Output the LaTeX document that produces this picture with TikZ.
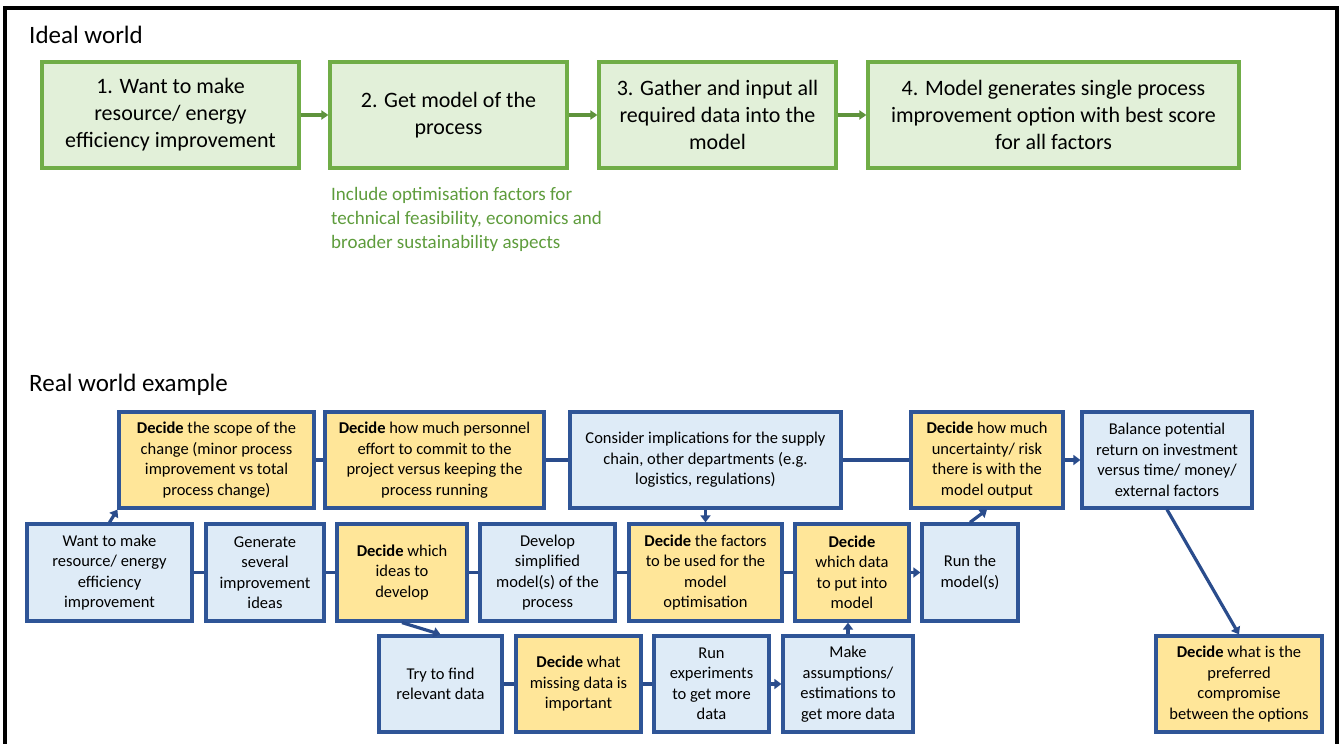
\documentclass[tikz,border=0pt]{standalone}
\usepackage{fontspec}
\setmainfont{Carlito}
\usetikzlibrary{arrows.meta}
\definecolor{bborder}{HTML}{2F5597}
\definecolor{bline}{HTML}{2A4C8C}
\definecolor{bfill}{HTML}{DEEBF7}
\definecolor{yfill}{HTML}{FFE699}
\definecolor{gborder}{HTML}{70AD47}
\definecolor{gfill}{HTML}{E2F0D9}
\definecolor{gtext}{HTML}{5E9C3C}
\newcommand{\mybox}[7]{\node[#6, minimum width={#4-#2}, minimum height={#5-#3}] (#1) at ({(#2+#4)/2},{(#3+#5)/2}) {#7};}
\tikzset{
  idealbox/.style={draw=gborder, fill=gfill, line width=3.2pt, inner sep=0pt, align=center, font=\fontsize{22}{27}\selectfont},
  bluebox/.style={draw=bborder, fill=bfill, line width=3.2pt, inner sep=0pt, align=center, font=\fontsize{16.5}{20.5}\selectfont},
  yellowbox/.style={draw=bborder, fill=yfill, line width=3.2pt, inner sep=0pt, align=center, font=\fontsize{16.5}{20.5}\selectfont},
  garrow/.style={draw=gborder!85!black, line width=3.2pt, -{Triangle[length=7pt,width=9pt]}},
  bconn/.style={draw=bline, line width=3.2pt},
  barrow/.style={draw=bline, line width=3.2pt, -{Triangle[length=7pt,width=10pt]}},
  title/.style={anchor=west, inner sep=0pt, font=\fontsize{25}{30}\selectfont}
}
\begin{document}
\begin{tikzpicture}[x=1pt,y=-1pt]
\useasboundingbox (0,0) rectangle (1341,744);
\draw[line width=3.5pt] (5,780) -- (5,8) -- (1337,8) -- (1337,780);

\node[title] (t1) at (29,35) {Ideal world};
\node[title] (t2) at (29,385) {Real world example};

\mybox{i1}{42}{62}{299}{168}{idealbox}{1. Want to make\\resource/ energy\\efficiency improvement}
\mybox{i2}{330}{62}{567}{168}{idealbox}{2. Get model of the\\process}
\mybox{i3}{599}{62}{836}{168}{idealbox}{3. Gather and input all\\required data into the\\model}
\mybox{i4}{868}{62}{1239}{168}{idealbox}{4. Model generates single process\\improvement option with best score\\for all factors}
\draw[garrow] (i1) -- (i2);
\draw[garrow] (i2) -- (i3);
\draw[garrow] (i3) -- (i4);
\node[anchor=west, inner sep=0pt, align=left, text=gtext, font=\fontsize{19}{24}\selectfont] (note) at (331,219) {Include optimisation factors for\\technical feasibility, economics and\\broader sustainability aspects};

% top row
\mybox{a}{119}{412}{314}{508}{yellowbox}{\textbf{Decide} the scope of the\\change (minor process\\improvement vs total\\process change)}
\mybox{b}{325}{412}{544}{508}{yellowbox}{\textbf{Decide} how much personnel\\effort to commit to the\\project versus keeping the\\process running}
\mybox{c}{570}{412}{841}{508}{bluebox}{Consider implications for the supply\\chain, other departments (e.g.\\logistics, regulations)}
\mybox{d}{911}{412}{1063}{508}{yellowbox}{\textbf{Decide} how much\\uncertainty/ risk\\there is with the\\model output}
\mybox{e}{1082}{412}{1252}{508}{bluebox}{Balance potential\\return on investment\\versus time/ money/\\external factors}
% middle row
\mybox{f}{27}{524}{192}{621}{bluebox}{Want to make\\resource/ energy\\efficiency\\improvement}
\mybox{g}{206}{524}{324}{621}{bluebox}{Generate\\several\\improvement\\ideas}
\mybox{h}{337}{524}{467}{621}{yellowbox}{\textbf{Decide} which\\ideas to\\develop}
\mybox{ii}{480}{524}{615}{621}{bluebox}{Develop\\simplified\\model(s) of the\\process}
\mybox{j}{629}{524}{782}{621}{yellowbox}{\textbf{Decide} the factors\\to be used for the\\model\\optimisation}
\mybox{k}{795}{524}{909}{621}{yellowbox}{\textbf{Decide}\\which data\\to put into\\model}
\mybox{l}{922}{524}{1018}{621}{bluebox}{Run the\\model(s)}
% bottom row
\mybox{m}{379}{636}{502}{732}{bluebox}{Try to find\\relevant data}
\mybox{n}{516}{636}{641}{732}{yellowbox}{\textbf{Decide} what\\missing data is\\important}
\mybox{o}{654}{636}{769}{732}{bluebox}{Run\\experiments\\to get more\\data}
\mybox{p}{783}{636}{913}{732}{bluebox}{Make\\assumptions/\\estimations to\\get more data}
\mybox{q}{1156}{636}{1322}{732}{yellowbox}{\textbf{Decide} what is the\\preferred\\compromise\\between the options}

% connectors
\draw[barrow] (f.north) -- (a.south west);
\draw[bconn] (a) -- (b);
\draw[bconn] (b) -- (c);
\draw[bconn] (c) -- (d);
\draw[barrow] (d) -- (e);
\draw[barrow] (c.south) -- (j.north);
\draw[bconn] (f) -- (g);
\draw[bconn] (g) -- (h);
\draw[bconn] (h) -- (ii);
\draw[bconn] (ii) -- (j);
\draw[bconn] (j) -- (k);
\draw[barrow] (k) -- (l);
\draw[barrow] (l.north) -- (d.south);
\draw[barrow] (h.south) -- (m.north);
\draw[bconn] (m) -- (n);
\draw[bconn] (n) -- (o);
\draw[barrow] (o) -- (p);
\draw[barrow] (p.north) -- (p.north |- k.south);
\draw[barrow] (e.south) -- (q.north);
\end{tikzpicture}
\end{document}
